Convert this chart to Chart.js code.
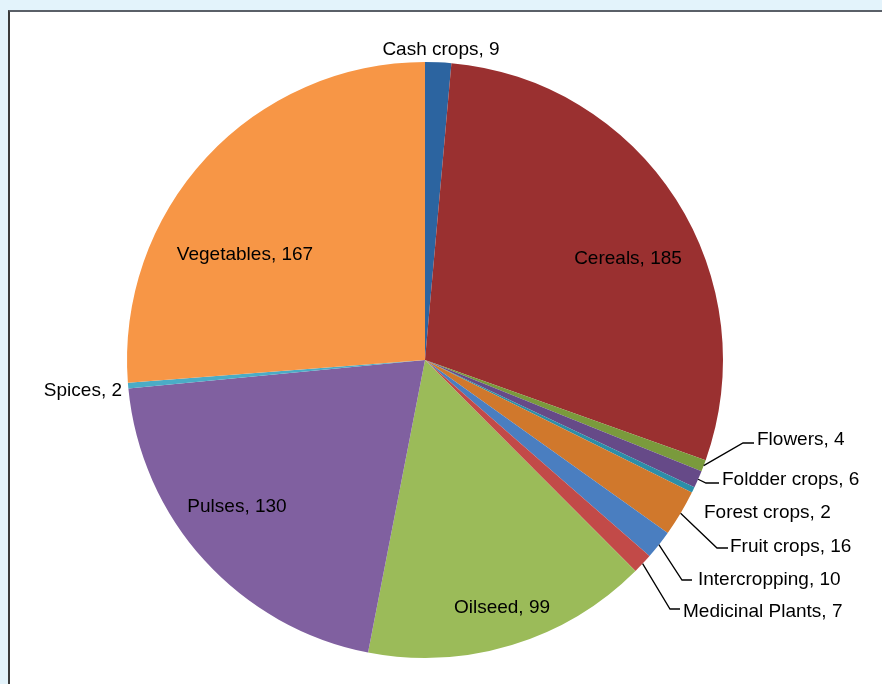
<!DOCTYPE html>
<html>
<head>
<meta charset="utf-8">
<script src="https://cdn.jsdelivr.net/npm/chart.js"></script>
<style>
  html, body { margin: 0; padding: 0; }
  body { width: 882px; height: 684px; background: #e3f3fb; position: relative; overflow: hidden; }
  #frame {
    position: absolute; left: 8px; top: 10px; width: 900px; height: 700px;
    background: #fff; border-top: 2px solid #5a6068; border-left: 2px solid #3a3a3a;
  }
  #wrap { position: absolute; left: 0; top: 0; width: 882px; height: 684px; }
</style>
</head>
<body>
<div id="frame"></div>
<div id="wrap"><canvas id="myChart"></canvas></div>
<script>
// SET UP
const labels = [
  'Cash crops', 'Cereals', 'Flowers', 'Foldder crops', 'Forest crops', 'Fruit crops',
  'Intercropping', 'Medicinal Plants', 'Oilseed', 'Pulses', 'Spices', 'Vegetables'
];
const values = [9, 185, 4, 6, 2, 16, 10, 7, 99, 130, 2, 167];
const colors = [
  '#2c64a0', '#9a3030', '#7a9a3c', '#664a88', '#2c8ea8', '#d0782c',
  '#4a7ec0', '#c24a48', '#9bbb59', '#8060a0', '#4bacc6', '#f79646'
];

// label placement, relative to pie centre (align: where text is anchored)
// elbow: leader line bend point relative to centre, none = no leader line
const labelLayout = [
  { dx: 16,   dy: -310, align: 'center' },
  { dx: 203,  dy: -101, align: 'center' },
  { dx: 332,  dy: 80,   align: 'left', elbow: [318, 83],  end: [329, 83] },
  { dx: 297,  dy: 120,  align: 'left', elbow: [281, 123], end: [294, 123] },
  { dx: 279,  dy: 153,  align: 'left' },
  { dx: 305,  dy: 187,  align: 'left', elbow: [292, 188], end: [303, 188] },
  { dx: 273,  dy: 220,  align: 'left', elbow: [257, 220], end: [267, 220] },
  { dx: 258,  dy: 252,  align: 'left', elbow: [245, 249], end: [255, 249] },
  { dx: 77,   dy: 248,  align: 'center' },
  { dx: -188, dy: 147,  align: 'center' },
  { dx: -303, dy: 31,   align: 'right' },
  { dx: -180, dy: -105, align: 'center' }
];

const sliceLabels = {
  id: 'sliceLabels',
  afterDatasetsDraw(chart) {
    const ctx = chart.ctx;
    const arcs = chart.getDatasetMeta(0).data;
    ctx.save();
    ctx.font = '19px "Liberation Sans", Arial, sans-serif';
    ctx.fillStyle = '#000';
    ctx.textBaseline = 'middle';
    arcs.forEach((arc, i) => {
      const L = labelLayout[i];
      const cx = arc.x, cy = arc.y;
      if (L.elbow) {
        const mid = (arc.startAngle + arc.endAngle) / 2;
        const sx = cx + Math.cos(mid) * arc.outerRadius;
        const sy = cy + Math.sin(mid) * arc.outerRadius;
        ctx.beginPath();
        ctx.strokeStyle = '#000';
        ctx.lineWidth = 1.3;
        ctx.moveTo(sx, sy);
        ctx.lineTo(cx + L.elbow[0], cy + L.elbow[1]);
        ctx.lineTo(cx + L.end[0], cy + L.end[1]);
        ctx.stroke();
      }
      ctx.textAlign = L.align;
      ctx.fillText(labels[i] + ', ' + values[i], cx + L.dx, cy + L.dy);
    });
    ctx.restore();
  }
};

const data = {
  labels: labels,
  datasets: [{
    data: values,
    backgroundColor: colors,
    borderWidth: 0
  }]
};

const config = {
  type: 'pie',
  data: data,
  options: {
    responsive: true,
    maintainAspectRatio: false,
    animation: false,
    layout: { padding: { left: 127, right: 159, top: 62, bottom: 26 } },
    plugins: {
      legend: { display: false },
      tooltip: { enabled: false }
    }
  },
  plugins: [sliceLabels]
};

var myChart = new Chart(document.getElementById('myChart'), config);
</script>
</body>
</html>
